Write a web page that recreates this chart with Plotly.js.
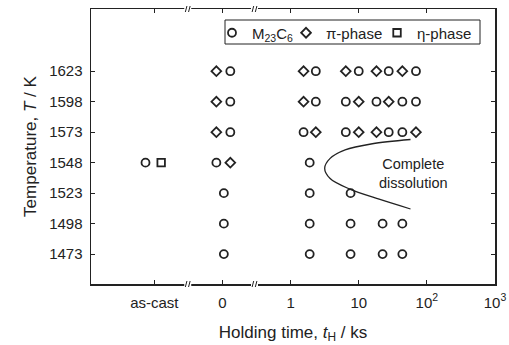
<!DOCTYPE html>
<html>
<head>
<meta charset="utf-8">
<script src="https://cdn.plot.ly/plotly-3.0.1.min.js"></script>
<style>
  html, body { margin: 0; padding: 0; background: #fff; }
  #chart { width: 509px; height: 345px; }
</style>
</head>
<body>
<div id="chart"></div>
<script>
// Positions along the broken x axis: -2 = as-cast, -1 = 0 ks, then log10(holding time / ks)
const tickPositions = [-2, -1, 0, 1, 2, 3];
const tickLabels = ['as-cast', '0', '1', '10', '10<sup>2</sup>', '10<sup>3</sup>'];
const tempTicks = [1473, 1498, 1523, 1548, 1573, 1598, 1623];
const axisBreaks = [-1.51, -0.53];

// M23C6 (circles)
const m23c6X = [-0.885, 0.37, 1.00, 1.44, 1.84,
                -0.885, 0.37, 0.81, 1.26, 1.64, 1.84,
                -0.885, 0.19, 0.81, 1.44, 1.64,
                -2.13, -1.09, 0.28,
                -0.98, 0.28, 0.88,
                -0.98, 0.28, 0.88, 1.35, 1.64,
                -0.98, 0.28, 0.88, 1.35, 1.64];
const m23c6T = [1623, 1623, 1623, 1623, 1623,
                1598, 1598, 1598, 1598, 1598, 1598,
                1573, 1573, 1573, 1573, 1573,
                1548, 1548, 1548,
                1523, 1523, 1523,
                1498, 1498, 1498, 1498, 1498,
                1473, 1473, 1473, 1473, 1473];

// pi-phase (diamonds)
const piX = [-1.09, 0.19, 0.81, 1.26, 1.64,
             -1.09, 0.19, 1.00, 1.44,
             -1.09, 0.37, 1.00, 1.26, 1.84,
             -0.885];
const piT = [1623, 1623, 1623, 1623, 1623,
             1598, 1598, 1598, 1598,
             1573, 1573, 1573, 1573, 1573,
             1548];

// eta-phase (squares)
const etaX = [-1.90];
const etaT = [1548];

// Complete dissolution boundary
const curveX = [1.76, 1.20, 0.80, 0.58, 0.50, 0.58, 0.86, 1.30, 1.76];
const curveT = [1567, 1563.5, 1558.5, 1551.5, 1543.5, 1535, 1526.5, 1518, 1510];

const ink = '#222222';
const font = 'Liberation Sans, Arial, sans-serif';

const traces = [
  { x: curveX, y: curveT, mode: 'lines', line: { color: ink, width: 1.3, shape: 'spline', smoothing: 0.9 },
    showlegend: false, hoverinfo: 'skip' },
  { x: m23c6X, y: m23c6T, mode: 'markers', name: 'M<sub>23</sub>C<sub>6</sub>', legend: 'legend',
    marker: { symbol: 'circle-open', size: 8, color: ink, line: { width: 1.8, color: ink } } },
  { x: piX, y: piT, mode: 'markers', name: '\u03c0-phase', legend: 'legend2',
    marker: { symbol: 'diamond-open', size: 7.5, color: ink, line: { width: 1.8, color: ink } } },
  { x: etaX, y: etaT, mode: 'markers', name: '\u03b7-phase', legend: 'legend3',
    marker: { symbol: 'square-open', size: 7.5, color: ink, line: { width: 1.8, color: ink } } }
];

const shapes = [
  { type: 'rect', xref: 'paper', yref: 'paper', x0: 0.3317, x1: 0.9629, y0: 0.8727, y1: 0.96,
    fillcolor: '#fff', line: { color: ink, width: 1 }, layer: 'below' }
];
axisBreaks.forEach(function (b) {
  [0, 1].forEach(function (yp) {
    shapes.push({ type: 'rect', xref: 'x', yref: 'paper', xsizemode: 'pixel', ysizemode: 'pixel',
      xanchor: b, yanchor: yp, x0: -3.5, x1: 3.5, y0: -3, y1: 3,
      fillcolor: '#fff', line: { width: 0 }, layer: 'above' });
    [-1.6, 1.6].forEach(function (o) {
      shapes.push({ type: 'line', xref: 'x', yref: 'paper', xsizemode: 'pixel', ysizemode: 'pixel',
        xanchor: b, yanchor: yp, x0: o - 0.8, x1: o + 0.8, y0: -3, y1: 3,
        line: { color: ink, width: 1 }, layer: 'above' });
    });
  });
});

function legendAt(x) {
  return {
    orientation: 'h', x: x, xanchor: 'left', y: 0.9127, yanchor: 'middle',
    borderwidth: 0, bgcolor: 'rgba(0,0,0,0)',
    font: { family: font, size: 15, color: ink },
    itemwidth: 30
  };
}

const layout = {
  width: 509, height: 345,
  margin: { l: 91, r: 14, t: 9, b: 61 },
  paper_bgcolor: '#fff', plot_bgcolor: '#fff',
  font: { family: font, size: 15, color: ink },
  showlegend: true,
  legend: legendAt(0.2995),
  legend2: legendAt(0.4827),
  legend3: legendAt(0.708),
  xaxis: {
    range: [-2.93, 3], showgrid: false, zeroline: false,
    showline: true, linecolor: ink, linewidth: 1.5, mirror: 'ticks',
    ticks: 'inside', ticklen: 4, tickwidth: 1, tickcolor: ink,
    tickvals: tickPositions, ticktext: tickLabels, ticklabelstandoff: 4,
    tickfont: { family: font, size: 15, color: ink },
    title: { text: 'Holding time, <i>t</i><sub>H</sub> / ks', font: { family: font, size: 17, color: ink }, standoff: 16 }
  },
  yaxis: {
    range: [1448.5, 1674], showgrid: false, zeroline: false,
    showline: true, linecolor: ink, linewidth: 1.5, mirror: 'ticks',
    ticks: 'inside', ticklen: 4, tickwidth: 1, tickcolor: ink,
    tickvals: tempTicks, ticklabelstandoff: 4,
    tickfont: { family: font, size: 15, color: ink },
    title: { text: 'Temperature, <i>T</i> / K', font: { family: font, size: 17, color: ink }, standoff: 8 }
  },
  annotations: [
    { x: 1.80, y: 1539, xref: 'x', yref: 'y', text: 'Complete<br>dissolution', showarrow: false,
      font: { family: font, size: 14.5, color: ink }, align: 'center' }
  ],
  shapes: shapes
};

Plotly.newPlot('chart', traces, layout, { staticPlot: true, displayModeBar: false });
</script>
</body>
</html>
